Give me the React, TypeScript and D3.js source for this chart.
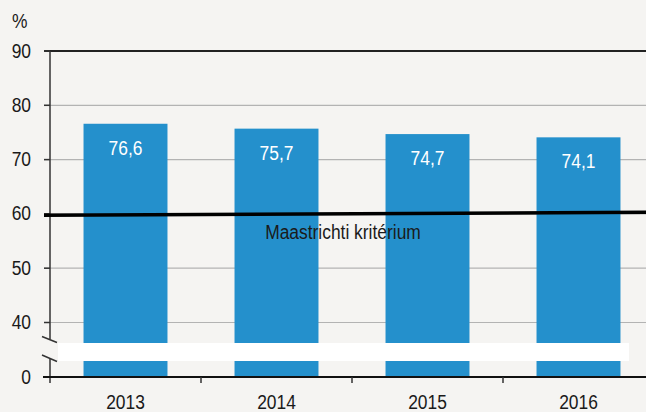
import React from "react";
import * as d3 from "d3";

const years = ["2013", "2014", "2015", "2016"];
const values = [76.6, 75.7, 74.7, 74.1];
const valueLabels = ["76,6", "75,7", "74,7", "74,1"];
const yTicks = [40, 50, 60, 70, 80, 90];
const criterionEnds = [59.75, 60.3];
const criterionLabel = "Maastrichti kritérium";

const W = 646;
const H = 412;
const BG = "#f5f4f2";
const BAR = "#2490cc";
const FONT = "'Liberation Sans', Arial, sans-serif";
const SX = 0.87;

export default function App() {
  React.useEffect(() => {
    document.body.style.margin = "0";
    document.body.style.background = BG;
  }, []);

  const x = d3.scaleBand<string>().domain(years).range([50, 654]).padding(0);
  const bw = x.bandwidth() * 0.556;
  const y = d3.scaleLinear().domain([40, 90]).range([322.5, 51]);
  const y0 = 377;
  const lineX = d3.scaleLinear().domain([0, 1]).range([44, W]);
  const line = d3
    .line<number>()
    .x((_, i) => lineX(i / (criterionEnds.length - 1)))
    .y((d) => y(d));

  const T = (props: { x: number; y: number; anchor?: string; fill?: string; children: React.ReactNode }) => (
    <text
      transform={`translate(${props.x},${props.y}) scale(${SX},1)`}
      textAnchor={props.anchor || "middle"}
      fill={props.fill || "#1a1a1a"}
      fontFamily={FONT}
      fontSize={20}
    >
      {props.children}
    </text>
  );

  return (
    <svg width={W} height={H} style={{ display: "block", background: BG }}>
      <rect x={0} y={0} width={W} height={H} fill={BG} />
      {yTicks.filter((t) => t !== 90).map((t) => (
        <line key={t} x1={44} x2={W} y1={y(t)} y2={y(t)} stroke="#b3b3b3" strokeWidth={1.2} />
      ))}
      {years.map((yr, i) => (
        <rect
          key={yr}
          x={(x(yr) as number) + (x.bandwidth() - bw) / 2}
          y={y(values[i])}
          width={bw}
          height={y0 - y(values[i])}
          fill={BAR}
        />
      ))}
      <rect x={58} y={343} width={571} height={18} fill="#ffffff" />
      <line x1={44} x2={W} y1={y(90)} y2={y(90)} stroke="#222" strokeWidth={2} />
      <line x1={50} x2={50} y1={y(90)} y2={339} stroke="#333" strokeWidth={1.5} />
      <line x1={50} x2={50} y1={358} y2={383} stroke="#333" strokeWidth={1.5} />
      <line x1={42} x2={57} y1={336.5} y2={342.5} stroke="#333" strokeWidth={1.5} />
      <line x1={42} x2={57} y1={355} y2={361.5} stroke="#333" strokeWidth={1.5} />
      {yTicks.map((t) => (
        <line key={t} x1={44} x2={50} y1={y(t)} y2={y(t)} stroke="#333" strokeWidth={1.5} />
      ))}
      <line x1={43} x2={W} y1={y0} y2={y0} stroke="#111" strokeWidth={2} />
      {years.slice(1).map((yr) => (
        <line key={yr} x1={x(yr) as number} x2={x(yr) as number} y1={y0} y2={383} stroke="#333" strokeWidth={1.5} />
      ))}
      <path d={line(criterionEnds) || ""} stroke="#000" strokeWidth={3.5} fill="none" />
      <T x={343} y={239}>{criterionLabel}</T>
      {years.map((yr, i) => (
        <T key={yr} x={(x(yr) as number) + x.bandwidth() / 2} y={y(values[i]) + 31} fill="#ffffff">
          {valueLabels[i]}
        </T>
      ))}
      {yTicks.map((t) => (
        <T key={t} x={31} y={y(t) + 6.5} anchor="end">
          {String(t)}
        </T>
      ))}
      <T x={31} y={y0 + 6.5} anchor="end">0</T>
      <T x={12} y={28} anchor="start">%</T>
      {years.map((yr) => (
        <T key={yr} x={(x(yr) as number) + x.bandwidth() / 2} y={408.5}>
          {yr}
        </T>
      ))}
    </svg>
  );
}
